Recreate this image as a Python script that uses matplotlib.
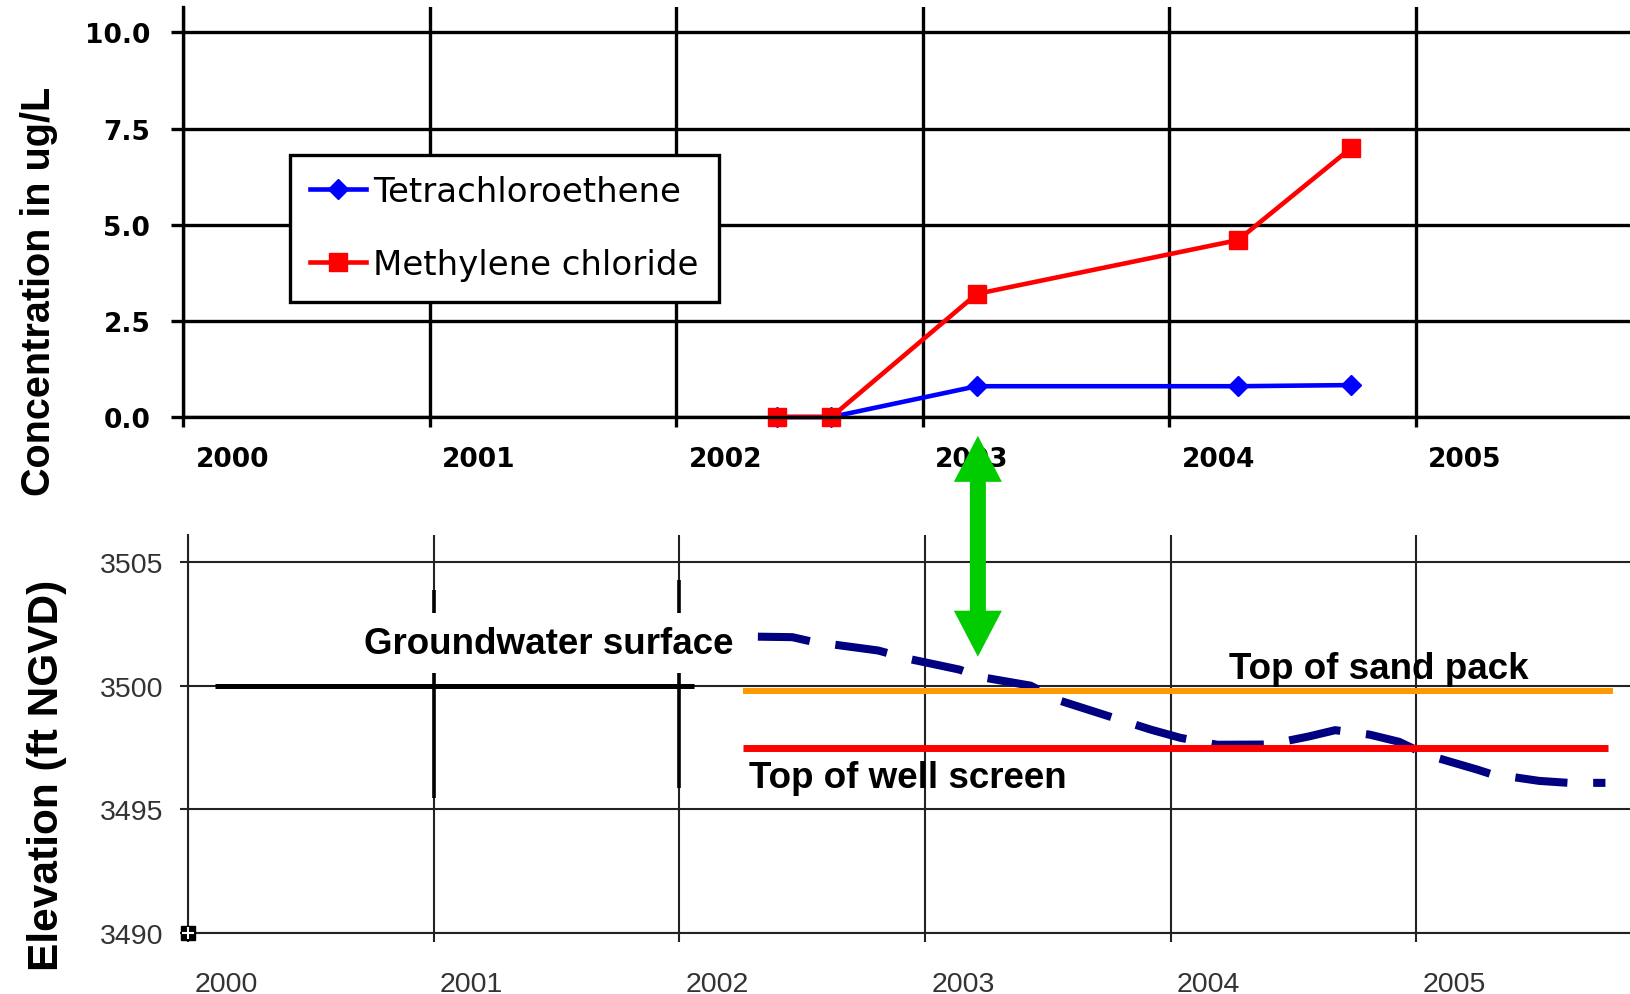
import matplotlib
matplotlib.use('Agg')
import matplotlib.pyplot as plt
from matplotlib import font_manager
from matplotlib.patches import Polygon

# Well sampling results (decimal years, ug/L)
SAMPLE_DATES = [2002.41, 2002.63, 2003.22, 2004.28, 2004.74]
PCE = [0.0, 0.0, 0.8, 0.8, 0.83]
METHYLENE_CHLORIDE = [0.0, 0.0, 3.2, 4.6, 7.0]

# Groundwater surface elevation (ft NGVD)
GW_DATES = [2002.32, 2002.46, 2002.54, 2002.81, 2002.93, 2003.14, 2003.22, 2003.43,
            2003.55, 2003.92, 2004.04, 2004.19, 2004.40, 2004.56, 2004.67, 2004.81,
            2004.93, 2005.04, 2005.25, 2005.30, 2005.50, 2005.62, 2005.77]
GW_ELEV = [3501.98, 3501.96, 3501.78, 3501.42, 3501.09, 3500.65, 3500.36, 3500.00,
           3499.39, 3498.22, 3497.89, 3497.61, 3497.62, 3497.94, 3498.20, 3498.02,
           3497.73, 3497.21, 3496.60, 3496.44, 3496.15, 3496.07, 3496.07]

# Well construction
SAND_PACK_ELEV = 3499.8
SAND_PACK_SPAN = [2002.26, 2005.80]
WELL_SCREEN_ELEV = 3497.49
WELL_SCREEN_SPAN = [2002.26, 2005.78]

# older level line and the heavy grid remnants on the elevation panel
OLD_LEVEL_ELEV = 3500.0
OLD_LEVEL_SPAN = [2000.11, 2002.06]
HEAVY_YEARS = [2001, 2002]
HEAVY_TOPS = [3503.85, 3504.29]
HEAVY_BOTTOMS = [3495.46, 3495.87]

YEARS = [2000, 2001, 2002, 2003, 2004, 2005]
CONC_TICKS = [0.0, 2.5, 5.0, 7.5, 10.0]
ELEV_TICKS = [3490, 3495, 3500, 3505]

ARROW_DATE = 2003.22

fig = plt.figure(figsize=(16.3, 9.95), dpi=100)
fig.patch.set_facecolor('white')

#%% concentration panel
ax1 = fig.add_axes([0.1123, 0.5799, 0.8877, 0.4121])
ax1.plot(SAMPLE_DATES, PCE, color='#0000FF', lw=3.3, marker='D', ms=10,
         label='Tetrachloroethene', clip_on=False)
ax1.plot(SAMPLE_DATES, METHYLENE_CHLORIDE, color='#FF0000', lw=3.3, marker='s', ms=13,
         label='Methylene chloride', clip_on=False)
ax1.set_xlim(2000, 2005.87)
ax1.set_ylim(0, 10.66)
ax1.set_xticks(YEARS)
ax1.set_xticks([y + 0.2 for y in YEARS], labels=[str(y) for y in YEARS], minor=True)
ax1.set_yticks(CONC_TICKS, labels=['%.1f' % v for v in CONC_TICKS])
ax1.tick_params(axis='x', which='major', length=7.2, width=2.4, labelbottom=False)
ax1.tick_params(axis='x', which='minor', length=0, pad=21)
ax1.tick_params(axis='y', length=8.6, width=2.4, pad=15)
for lab in ax1.get_xticklabels(minor=True) + ax1.get_yticklabels():
    lab.set_fontfamily('DejaVu Sans')
    lab.set_fontweight('bold')
    lab.set_fontsize(19)
ax1.grid(True, which='major', color='black', lw=2.4)
for side in ['top', 'right']:
    ax1.spines[side].set_visible(False)
for side in ['left', 'bottom']:
    ax1.spines[side].set_linewidth(2.4)

leg = ax1.legend(loc='upper left', bbox_to_anchor=(0.0739, 0.639), borderaxespad=0,
                 fancybox=False, edgecolor='black', framealpha=1, numpoints=1,
                 handlelength=1.64, handletextpad=0.2, borderpad=0.6, labelspacing=1.17,
                 prop={'family': 'DejaVu Sans', 'size': 24.5})
leg.get_frame().set_linewidth(2.4)

#%% elevation panel
ax2 = fig.add_axes([0.1153, 0.0613, 0.8847, 0.4000])
ax2.set_xlim(2000, 2005.87)
ax2.set_ylim(3490, 3506.09)
ax2.set_xticks(YEARS)
ax2.set_xticks([y + 0.155 for y in YEARS], labels=[str(y) for y in YEARS], minor=True)
ax2.set_yticks(ELEV_TICKS, labels=[str(v) for v in ELEV_TICKS])
ax2.tick_params(axis='x', which='major', length=6.5, width=1.5, color='#222222', labelbottom=False)
ax2.tick_params(axis='x', which='minor', length=0, pad=27)
ax2.tick_params(axis='y', length=5.8, width=1.5, color='#222222', pad=12)
for lab in ax2.get_xticklabels(minor=True) + ax2.get_yticklabels():
    lab.set_fontfamily('Liberation Sans')
    lab.set_fontsize(20.5)
    lab.set_color('#333333')
ax2.grid(True, which='major', color='#222222', lw=1.5)
for side in ['top', 'right']:
    ax2.spines[side].set_visible(False)
for side in ['left', 'bottom']:
    ax2.spines[side].set_linewidth(1.5)
    ax2.spines[side].set_color('#222222')

ax2.plot(OLD_LEVEL_SPAN, [OLD_LEVEL_ELEV] * 2, color='black', lw=3.6, solid_capstyle='butt')
for yr, top, bot in zip(HEAVY_YEARS, HEAVY_TOPS, HEAVY_BOTTOMS):
    ax2.plot([yr, yr], [top, bot], color='black', lw=2.6, solid_capstyle='butt')

ax2.plot(GW_DATES, GW_ELEV, color='#000080', lw=5.8, linestyle=(0, (6.5, 3.2)))
ax2.plot(SAND_PACK_SPAN, [SAND_PACK_ELEV] * 2, color='#FF9900', lw=4.3, solid_capstyle='butt')
ax2.plot(WELL_SCREEN_SPAN, [WELL_SCREEN_ELEV] * 2, color='#FF0000', lw=5.0, solid_capstyle='butt')

ax2.plot([2000], [3490], marker='s', ms=10, color='black', clip_on=False, zorder=4)
ax2.plot([2000], [3490], marker='+', ms=8, mew=1.5, color='white', clip_on=False, zorder=5)

note = dict(family='Liberation Sans', weight='bold', fontsize=26.5, color='black')
ax2.text(2000.716, 3501.34, 'Groundwater surface', va='baseline', ha='left',
         bbox=dict(fc='white', ec='none', pad=9), **note)
ax2.text(2004.237, 3500.32, 'Top of sand pack', va='baseline', ha='left', **note)
ax2.text(2002.283, 3495.91, 'Top of well screen', va='baseline', ha='left', **note)

#%% axis titles
names = {f.name for f in font_manager.fontManager.ttflist}
if 'Liberation Sans Narrow' in names:
    fig.text(0.024, 0.7075, 'Concentration in ug/L', rotation=90, ha='center', va='center',
             family='Liberation Sans Narrow', weight='bold', fontsize=34.5)
else:
    fig.text(0.024, 0.7075, 'Concentration in ug/L', rotation=90, ha='center', va='center',
             family='Liberation Sans', weight='bold', fontsize=28.5)
fig.text(0.029, 0.2211, 'Elevation (ft NGVD)', rotation=90, ha='center', va='center',
         family='Liberation Sans', weight='bold', fontsize=30.5)

#%% green double arrow linking the sample date to the water level
top_tip = ax1.transData.transform((ARROW_DATE, -0.49))
bot_tip = ax2.transData.transform((ARROW_DATE, 3501.17))
x0 = (top_tip[0] + bot_tip[0]) / 2
yt, yb = top_tip[1], bot_tip[1]
sw, hw, hl = 8, 24, 46
verts = [(x0, yt), (x0 + hw, yt - hl), (x0 + sw, yt - hl), (x0 + sw, yb + hl),
         (x0 + hw, yb + hl), (x0, yb), (x0 - hw, yb + hl), (x0 - sw, yb + hl),
         (x0 - sw, yt - hl), (x0 - hw, yt - hl)]
verts = fig.transFigure.inverted().transform(verts)
fig.add_artist(Polygon(verts, closed=True, transform=fig.transFigure,
                       fc='#00CC00', ec='none', zorder=5))

fig.savefig('out.png', dpi=100, facecolor='white')
